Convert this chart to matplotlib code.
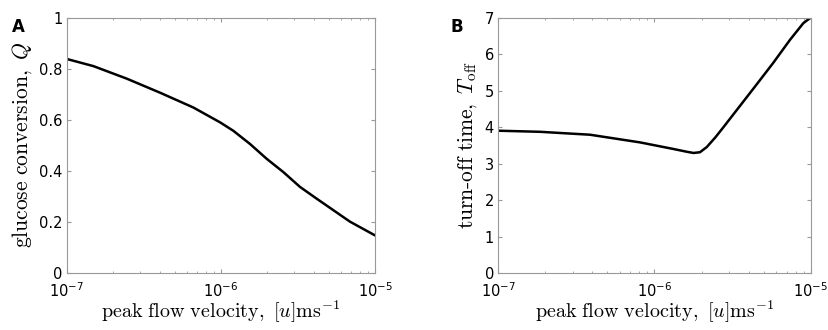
import numpy as np
import matplotlib.pyplot as plt
from matplotlib.ticker import FixedLocator, LogLocator, NullFormatter

# %% data (log10 of velocity)
logu_a = [-7.0, -6.827, -6.611, -6.395, -6.179, -6.006, -5.92, -5.811, -5.703,
          -5.595, -5.487, -5.379, -5.271, -5.163, -5.0]
q_vals = [0.838, 0.810, 0.761, 0.706, 0.648, 0.590, 0.557, 0.505, 0.447,
          0.395, 0.337, 0.291, 0.246, 0.201, 0.147]

logu_b = [-7.0, -6.733, -6.413, -6.093, -5.88, -5.79, -5.75, -5.709, -5.666,
          -5.61, -5.56, -5.453, -5.346, -5.24, -5.133, -5.047, -5.0]
t_off = [3.90, 3.87, 3.79, 3.58, 3.40, 3.32, 3.29, 3.31, 3.45,
         3.72, 3.99, 4.58, 5.17, 5.76, 6.39, 6.85, 7.0]

xticks = [1e-7, 1e-6, 1e-5]
xticklabels = [r'$10^{-7}$', r'$10^{-6}$', r'$10^{-5}$']
yticks_a = [0, 0.2, 0.4, 0.6, 0.8, 1]
yticklabels_a = ['0', '0.2', '0.4', '0.6', '0.8', '1']
yticks_b = [0, 1, 2, 3, 4, 5, 6, 7]

plt.rcParams['mathtext.fontset'] = 'dejavusans'

fig = plt.figure(figsize=(8.29, 3.30), dpi=100)
ax_a = fig.add_axes([0.0805, 0.1727, 0.372, 0.774])
ax_b = fig.add_axes([0.601, 0.1727, 0.377, 0.774])

grey = '#999999'


def style_axis(ax, xlabel, ylabel):
    ax.set_xscale('log')
    ax.set_xlim(1e-7, 1e-5)
    ax.xaxis.set_major_locator(FixedLocator(xticks))
    ax.set_xticklabels(xticklabels)
    ax.xaxis.set_minor_locator(LogLocator(base=10, subs=np.arange(2, 10)))
    ax.xaxis.set_minor_formatter(NullFormatter())
    ax.tick_params(which='both', direction='in', top=True, right=True,
                   color=grey, labelsize=10.5, labelcolor='black')
    ax.tick_params(which='major', length=3)
    ax.tick_params(axis='x', which='major', pad=6)
    ax.tick_params(axis='y', which='major', pad=3)
    ax.tick_params(which='minor', length=1.5)
    for s in ax.spines.values():
        s.set_color(grey)
        s.set_linewidth(0.8)
    ax.set_xlabel(xlabel, fontsize=14.5, math_fontfamily='cm', labelpad=-1)
    ax.set_ylabel(ylabel, fontsize=15.5, math_fontfamily='cm', labelpad=4)


ax_a.plot(10.0 ** np.array(logu_a), q_vals, color='black', lw=1.8)
ax_a.set_ylim(0, 1)
ax_a.set_yticks(yticks_a)
ax_a.set_yticklabels(yticklabels_a)
style_axis(ax_a, r'$\mathrm{peak\ flow\ velocity,\ }[u]\mathrm{ms}^{-1}$',
           r'$\mathrm{glucose\ conversion,\ }Q$')

ax_b.plot(10.0 ** np.array(logu_b), t_off, color='black', lw=1.8)
ax_b.set_ylim(0, 7)
ax_b.set_yticks(yticks_b)
style_axis(ax_b, r'$\mathrm{peak\ flow\ velocity,\ }[u]\mathrm{ms}^{-1}$',
           r'$\mathrm{turn\text{-}off\ time,\ }T_{\mathrm{off}}$')

fig.text(0.014, 0.945, 'A', fontsize=12, fontweight='bold', va='top')
fig.text(0.543, 0.945, 'B', fontsize=12, fontweight='bold', va='top')

fig.savefig('out.png', dpi=100)
